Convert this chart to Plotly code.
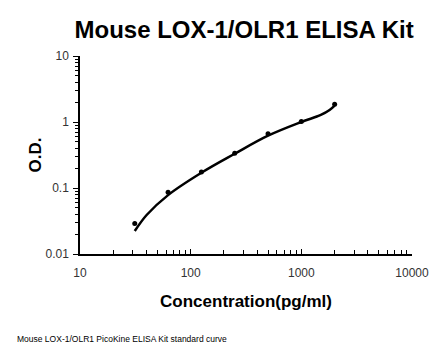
import plotly.graph_objects as go

conc = [31.25, 62.5, 125, 250, 500, 1000, 2000]
od = [0.029, 0.086, 0.175, 0.335, 0.665, 1.02, 1.85]

curve_conc = [31.25, 40, 62.5, 125, 250, 500, 1000, 1500, 1800, 2000]
curve_od = [0.0223, 0.039, 0.078, 0.17, 0.33, 0.62, 1.0, 1.28, 1.52, 1.77]

fig = go.Figure()
fig.add_trace(go.Scatter(x=curve_conc, y=curve_od, mode="lines",
                         line=dict(color="black", width=2.5, shape="spline"),
                         hoverinfo="skip"))
fig.add_trace(go.Scatter(x=conc, y=od, mode="markers",
                         marker=dict(color="black", size=5)))

axis_common = dict(type="log", showgrid=False, zeroline=False, showline=True,
                   linecolor="black", linewidth=1.5, tickcolor="black", automargin=False,
                   tickfont=dict(family="Liberation Sans, Arial", size=12, color="#333"))

fig.update_xaxes(range=[1, 4], tickvals=[10, 100, 1000, 10000],
                 ticktext=["10", "100", "1000", "10000"],
                 ticks="inside", ticklen=5, ticklabelstandoff=7,
                 minor=dict(ticks="inside", ticklen=4, dtick="D1", tickcolor="black", showgrid=False),
                 title=dict(text="<b>Concentration(pg/ml)</b>",
                            font=dict(family="Liberation Sans, Arial", size=17, color="black"),
                            standoff=16),
                 **axis_common)
fig.update_yaxes(range=[-2, 1], tickvals=[0.01, 0.1, 1, 10],
                 ticktext=["0.01", "0.1", "1", "10"],
                 ticks="outside", ticklen=5, ticklabelstandoff=2,
                 minor=dict(ticks="outside", ticklen=3, dtick="D1", tickcolor="black", showgrid=False),
                 title=dict(text="<b>O.D.</b>",
                            font=dict(family="Liberation Sans, Arial", size=17, color="black"),
                            standoff=0),
                 **axis_common)

fig.update_layout(
    width=438, height=348,
    margin=dict(l=72, r=34, t=48, b=102),
    paper_bgcolor="white", plot_bgcolor="white",
    showlegend=False,
    title=dict(text="<b>Mouse LOX-1/OLR1 ELISA Kit</b>", x=0.539, xanchor="center",
               y=0.937, yanchor="middle",
               font=dict(family="Liberation Sans, Arial", size=24, color="black")),
    annotations=[dict(text="Mouse LOX-1/OLR1 PicoKine ELISA Kit standard curve",
                      xref="paper", yref="paper", x=-0.196, y=-0.429,
                      xanchor="left", yanchor="middle", showarrow=False,
                      font=dict(family="Liberation Sans, Arial", size=8.5, color="black"))],
)

fig.write_html("out.html")
